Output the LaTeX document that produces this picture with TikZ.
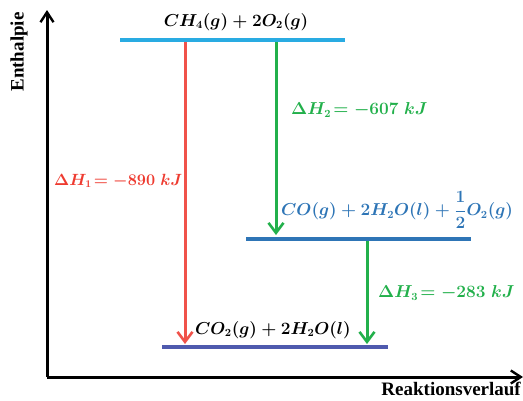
\documentclass[tikz,border=0pt]{standalone}
\usepackage{fontspec}
\usepackage{amsmath}
\newfontfamily\axisfont{Liberation Serif}
\usetikzlibrary{arrows.meta}
\definecolor{topcyan}{HTML}{29ABE2}
\definecolor{midblue}{HTML}{2E75B6}
\definecolor{botblue}{HTML}{4F5AAE}
\definecolor{redarr}{HTML}{F0524A}
\definecolor{redtxt}{HTML}{EE3B30}
\definecolor{grn}{HTML}{22B04B}
\tikzset{
  axis/.style={line width=3pt,-{Straight Barb[length=10pt,width=13pt,line width=2.4pt]}},
  level/.style={line width=4.2pt},
  harrow/.style={line width=3pt,-{Straight Barb[length=10pt,width=15pt,line width=2.6pt]}},
  axlabel/.style={font=\axisfont\fontsize{19}{19}\selectfont\bfseries,inner sep=0pt},
  chem/.style={font=\fontsize{16}{16}\selectfont\boldmath,inner sep=0pt},
}
\begin{document}
\begin{tikzpicture}[x=1pt,y=-1pt]
\useasboundingbox (0,0) rectangle (523,400);
% axes
\coordinate (O) at (47,377);
\coordinate (ytop) at (47,10);
\coordinate (xend) at (523,377);
\draw[axis] (O) -- (ytop);
\draw[axis] (O) -- (xend);
\node[axlabel,rotate=90] (ylab) at (19,52) {Enthalpie};
\node[axlabel,anchor=east] (xlab) at (521,389) {Reaktionsverlauf};
% levels
\coordinate (t1) at (120,40); \coordinate (t2) at (345,40);
\coordinate (m1) at (246,239); \coordinate (m2) at (471,239);
\coordinate (b1) at (162,347); \coordinate (b2) at (388,347);
\draw[level,topcyan] (t1) -- (t2);
\draw[level,midblue] (m1) -- (m2);
\draw[level,botblue] (b1) -- (b2);
% arrows
\coordinate (r1) at (185,42); \coordinate (r2) at (185,344);
\coordinate (g1) at (276,42); \coordinate (g2) at (276,235);
\coordinate (h1) at (367,241); \coordinate (h2) at (367,344);
\draw[harrow,redarr] (r1) -- (r2);
\draw[harrow,grn] (g1) -- (g2);
\draw[harrow,grn] (h1) -- (h2);
% labels
\node[chem] (ltop) at (236,22) {$CH_4(g)+2O_2(g)$};
\node[chem,text=midblue,anchor=west] (lmid) at (281,210) {$CO(g)+2H_2O(l)+\dfrac{1}{2}O_2(g)$};
\node[chem,anchor=west] (lbot) at (195,330) {$CO_2(g)+2H_2O(l)$};
\node[chem,text=redtxt,anchor=west] (dh1) at (54,181) {\scalebox{0.94}{$\Delta H_1\!= -890\;kJ$}};
\node[chem,text=grn,anchor=west] (dh2) at (291,110) {$\Delta H_2\!= -607\;kJ$};
\node[chem,text=grn,anchor=west] (dh3) at (378,293) {$\Delta H_3\!= -283\;kJ$};
\end{tikzpicture}
\end{document}
